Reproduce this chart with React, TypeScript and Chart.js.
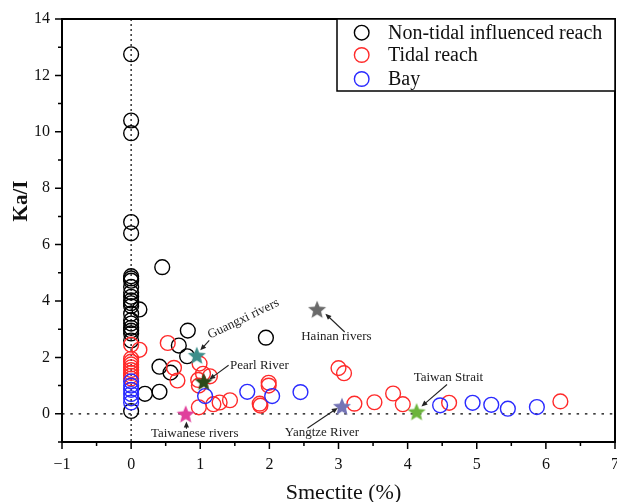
import React, { useEffect, useRef } from "react";
import { Chart, registerables } from "chart.js";

Chart.register(...registerables);

// ---------------- data ----------------
const seriesLabels = ["Non-tidal influenced reach", "Tidal reach", "Bay"];
const seriesColors = ["#000000", "#ff2a2a", "#2a2aff"];

const nonTidalX = [
  0, 0, 0, 0, 0, 0, 0, 0, 0, 0, 0, 0, 0, 0, 0, 0, 0, 0, 0, 0, 0, 0,
  0.12, 0.45, 0.82, 0.69, 0.81, 0.41, 0.57, 0.2, 0.41, 1.95,
];
const nonTidalY = [
  12.75, 10.4, 9.95, 6.8, 6.4, 4.88, 4.8, 4.72, 4.5, 4.3, 4.15, 4.02, 3.92, 3.82, 3.55, 3.32, 3.2, 3.05, 2.95, 2.85, 2.6, 0.1,
  3.7, 5.2, 2.95, 2.42, 2.04, 1.67, 1.46, 0.71, 0.78, 2.7,
];

const tidalX = [
  0, 0, 0, 0, 0, 0, 0, 0, 0,
  0.12, 0.53, 0.62, 0.67, 0.99, 1.04, 1.14, 0.97, 0.98, 0.98, 1.19, 1.28, 1.43,
  1.86, 1.87, 1.99, 1.99, 3.0, 3.08, 3.23, 3.52, 3.79, 3.93, 4.6, 6.21,
];
const tidalY = [
  2.45, 1.95, 1.85, 1.75, 1.65, 1.55, 1.45, 1.35, 1.25,
  2.27, 2.51, 1.63, 1.18, 1.78, 1.42, 1.33, 1.2, 1.0, 0.23, 0.34, 0.4, 0.48,
  0.36, 0.29, 1.1, 1.0, 1.62, 1.44, 0.36, 0.41, 0.72, 0.34, 0.39, 0.44,
];

const bayX = [0, 0, 0, 0, 0, 0, 1.07, 1.68, 2.04, 2.45, 4.47, 4.94, 5.21, 5.45, 5.87];
const bayY = [1.15, 1.0, 0.85, 0.7, 0.55, 0.4, 0.63, 0.78, 0.63, 0.77, 0.3, 0.39, 0.32, 0.18, 0.24];

const starNames = ["Guangxi rivers", "Pearl River", "Hainan rivers", "Taiwanese rivers", "Yangtze River", "Taiwan Strait"];
const starX = [0.95, 1.05, 2.69, 0.79, 3.05, 4.13];
const starY = [2.08, 1.15, 3.71, 0.0, 0.27, 0.08];
const starColors = ["#3d8e8a", "#2c4a1a", "#6a6a6a", "#e0409c", "#7474b6", "#6cb43c"];

// annotation text anchors (data units) and arrows (data units)
const noteTextX = [1.14, 1.43, 2.97, 0.92, 2.76, 4.59];
const noteTextY = [2.66, 1.6, 2.6, -0.83, -0.77, 1.15];
const noteAlign = ["left", "left", "center", "center", "center", "center"];
const noteAngle = [-25.7, 0, 0, 0, 0, 0];
const arrowFromX = [1.13, 1.41, 3.09, 0.8, 2.55, 4.57];
const arrowFromY = [2.6, 1.72, 2.9, -0.53, -0.51, 1.04];
const arrowToX = [1.0, 1.13, 2.81, 0.8, 2.99, 4.2];
const arrowToY = [2.25, 1.22, 3.55, -0.27, 0.21, 0.26];

const xMajor = [-1, 0, 1, 2, 3, 4, 5, 6, 7];
const xMinor = [-0.5, 0.5, 1.5, 2.5, 3.5, 4.5, 5.5, 6.5];
const yMajor = [0, 2, 4, 6, 8, 10, 12, 14];
const yMinor = [-1, 1, 3, 5, 7, 9, 11, 13];

const SERIF = "'Liberation Serif', 'Times New Roman', serif";

function toPoints(xs: number[], ys: number[]) {
  return xs.map((x, i) => ({ x, y: ys[i] }));
}

function makeStar(color: string) {
  const R = 9.5;
  const r = 4.2;
  const size = 22;
  const c = document.createElement("canvas");
  c.width = size;
  c.height = size;
  const ctx = c.getContext("2d")!;
  ctx.translate(size / 2, size / 2 + 1);
  ctx.beginPath();
  for (let i = 0; i < 10; i++) {
    const rad = i % 2 === 0 ? R : r;
    const a = -Math.PI / 2 + (i * Math.PI) / 5;
    const px = rad * Math.cos(a);
    const py = rad * Math.sin(a);
    if (i === 0) ctx.moveTo(px, py);
    else ctx.lineTo(px, py);
  }
  ctx.closePath();
  ctx.fillStyle = color;
  ctx.fill();
  return c;
}

const decorPlugin = {
  id: "decor",
  beforeDatasetsDraw(chart: any) {
    const { ctx, chartArea, scales } = chart;
    const xs = scales.x;
    const ys = scales.y;
    ctx.save();
    ctx.strokeStyle = "#000";
    ctx.lineWidth = 1.2;
    ctx.setLineDash([2, 3]);
    const x0 = xs.getPixelForValue(0);
    ctx.beginPath();
    ctx.moveTo(x0, chartArea.top);
    ctx.lineTo(x0, chartArea.bottom);
    ctx.stroke();
    ctx.setLineDash([2.5, 5.8]);
    const y0 = ys.getPixelForValue(0);
    ctx.beginPath();
    ctx.moveTo(chartArea.left, y0);
    ctx.lineTo(chartArea.right, y0);
    ctx.stroke();
    ctx.restore();
  },
  afterDraw(chart: any) {
    const { ctx, chartArea, scales } = chart;
    const xs = scales.x;
    const ys = scales.y;
    ctx.save();
    // frame
    ctx.strokeStyle = "#000";
    ctx.lineWidth = 2;
    ctx.setLineDash([]);
    ctx.strokeRect(chartArea.left, chartArea.top, chartArea.right - chartArea.left, chartArea.bottom - chartArea.top);
    // ticks
    ctx.lineWidth = 1.5;
    ctx.beginPath();
    xMajor.forEach((v) => {
      const p = xs.getPixelForValue(v);
      ctx.moveTo(p, chartArea.bottom);
      ctx.lineTo(p, chartArea.bottom + 7);
    });
    xMinor.forEach((v) => {
      const p = xs.getPixelForValue(v);
      ctx.moveTo(p, chartArea.bottom);
      ctx.lineTo(p, chartArea.bottom + 4);
    });
    yMajor.forEach((v) => {
      const p = ys.getPixelForValue(v);
      ctx.moveTo(chartArea.left, p);
      ctx.lineTo(chartArea.left - 7, p);
    });
    yMinor.forEach((v) => {
      const p = ys.getPixelForValue(v);
      ctx.moveTo(chartArea.left, p);
      ctx.lineTo(chartArea.left - 4, p);
    });
    ctx.stroke();

    // axis titles
    ctx.fillStyle = "#111";
    ctx.font = `bold 21px ${SERIF}`;
    ctx.textAlign = "center";
    ctx.textBaseline = "middle";
    ctx.save();
    ctx.translate(22, 201);
    ctx.rotate(-Math.PI / 2);
    ctx.fillText("Ka/I", 0, 0);
    ctx.restore();
    ctx.font = `22px ${SERIF}`;
    ctx.textBaseline = "alphabetic";
    ctx.fillText("Smectite (%)", (chartArea.left + chartArea.right) / 2 + 5, 499);

    // legend
    const lw = 278;
    const lh = 72;
    const lx = chartArea.right - lw;
    const ly = chartArea.top;
    ctx.fillStyle = "#fff";
    ctx.fillRect(lx, ly, lw, lh);
    ctx.lineWidth = 1.5;
    ctx.strokeStyle = "#000";
    ctx.strokeRect(lx, ly, lw, lh);
    ctx.font = `20px ${SERIF}`;
    ctx.textAlign = "left";
    ctx.textBaseline = "middle";
    const rowsY = [13.7, 36, 60];
    seriesLabels.forEach((lab, i) => {
      ctx.beginPath();
      ctx.lineWidth = 1.4;
      ctx.strokeStyle = seriesColors[i];
      ctx.arc(lx + 24.7, ly + rowsY[i], 7.3, 0, Math.PI * 2);
      ctx.stroke();
      ctx.fillStyle = "#111";
      ctx.fillText(lab, lx + 51, ly + rowsY[i] + 1);
    });

    // annotations
    ctx.fillStyle = "#222";
    ctx.strokeStyle = "#222";
    ctx.font = `13px ${SERIF}`;
    ctx.textBaseline = "alphabetic";
    starNames.forEach((name, i) => {
      const tx = xs.getPixelForValue(noteTextX[i]);
      const ty = ys.getPixelForValue(noteTextY[i]);
      ctx.save();
      ctx.translate(tx, ty);
      ctx.rotate((noteAngle[i] * Math.PI) / 180);
      ctx.textAlign = noteAlign[i] as CanvasTextAlign;
      ctx.fillText(name, 0, 0);
      ctx.restore();
      const ax = xs.getPixelForValue(arrowFromX[i]);
      const ay = ys.getPixelForValue(arrowFromY[i]);
      const bx = xs.getPixelForValue(arrowToX[i]);
      const by = ys.getPixelForValue(arrowToY[i]);
      const ang = Math.atan2(by - ay, bx - ax);
      const hl = 6;
      const hw = 2.6;
      ctx.lineWidth = 1.1;
      ctx.beginPath();
      ctx.moveTo(ax, ay);
      ctx.lineTo(bx - Math.cos(ang) * hl * 0.8, by - Math.sin(ang) * hl * 0.8);
      ctx.stroke();
      ctx.beginPath();
      ctx.moveTo(bx, by);
      ctx.lineTo(bx - Math.cos(ang) * hl - Math.sin(ang) * hw, by - Math.sin(ang) * hl + Math.cos(ang) * hw);
      ctx.lineTo(bx - Math.cos(ang) * hl + Math.sin(ang) * hw, by - Math.sin(ang) * hl - Math.cos(ang) * hw);
      ctx.closePath();
      ctx.fill();
    });
    ctx.restore();
  },
};

export default function App() {
  const ref = useRef<HTMLCanvasElement | null>(null);
  useEffect(() => {
    if (!ref.current) return;
    const circle = (i: number, xs: number[], ys: number[], order: number) => ({
      label: seriesLabels[i],
      data: toPoints(xs, ys),
      pointStyle: "circle",
      pointRadius: 7.4,
      pointBorderWidth: 1.4,
      pointBorderColor: seriesColors[i],
      pointBackgroundColor: "rgba(0,0,0,0)",
      showLine: false,
      order,
    });
    const chart = new Chart(ref.current, {
      type: "scatter",
      data: {
        datasets: [
          {
            label: "Sources",
            data: toPoints(starX, starY),
            pointStyle: starColors.map((c) => makeStar(c)) as any,
            pointRadius: 10,
            showLine: false,
            order: 0,
          },
          circle(2, bayX, bayY, 1),
          circle(1, tidalX, tidalY, 2),
          circle(0, nonTidalX, nonTidalY, 3),
        ] as any,
      },
      options: {
        responsive: false,
        animation: false,
        devicePixelRatio: 1,
        layout: { autoPadding: false, padding: { top: 19, right: 2, left: 0, bottom: 0 } },
        plugins: { legend: { display: false }, tooltip: { enabled: false } },
        scales: {
          x: {
            type: "linear",
            min: -1,
            max: 7,
            grid: { display: false, drawTicks: false, tickLength: 0 },
            border: { display: false },
            afterBuildTicks: (s: any) => {
              s.ticks = xMajor.map((v) => ({ value: v }));
            },
            afterFit: (s: any) => {
              s.height = 60;
              s.paddingLeft = 0;
              s.paddingRight = 0;
            },
            ticks: {
              padding: 13,
              color: "#111",
              font: { family: SERIF, size: 16 },
              maxRotation: 0,
              autoSkip: false,
              callback: (v: any) => (v < 0 ? "\u2212" + Math.abs(v) : String(v)),
            },
          },
          y: {
            type: "linear",
            min: -1,
            max: 14,
            grid: { display: false, drawTicks: false, tickLength: 0 },
            border: { display: false },
            afterBuildTicks: (s: any) => {
              s.ticks = yMajor.map((v) => ({ value: v }));
            },
            afterFit: (s: any) => {
              s.width = 62;
              s.paddingTop = 0;
              s.paddingBottom = 0;
            },
            ticks: {
              padding: 12,
              color: "#111",
              font: { family: SERIF, size: 16 },
              autoSkip: false,
              callback: (v: any) => String(v),
            },
          },
        },
      },
      plugins: [decorPlugin],
    });
    return () => chart.destroy();
  }, []);
  return (
    <div style={{ position: "absolute", left: 0, top: 0, width: 617, height: 502, background: "#fff" }}>
      <canvas ref={ref} width={617} height={502} style={{ display: "block" }} />
    </div>
  );
}
